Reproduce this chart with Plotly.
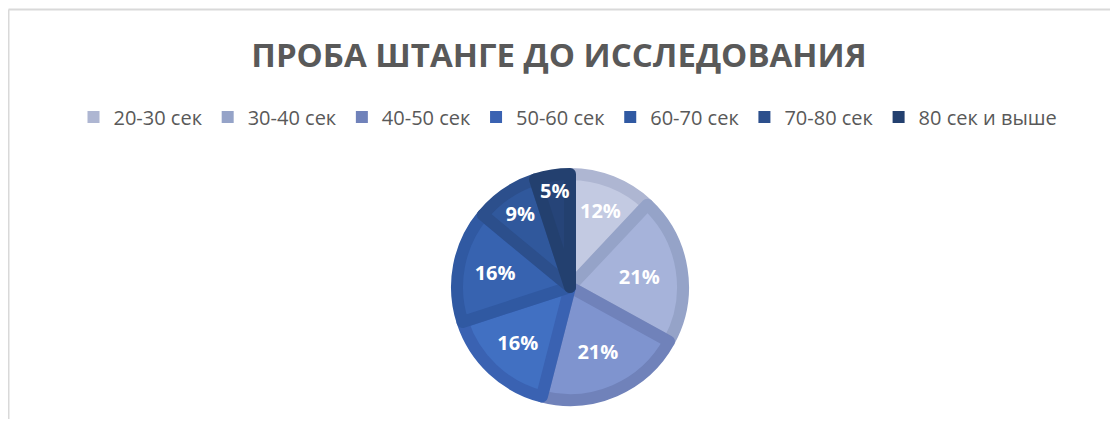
import plotly.graph_objects as go

categories = ["20-30 сек", "30-40 сек", "40-50 сек", "50-60 сек", "60-70 сек", "70-80 сек", "80 сек и выше"]
values = [12, 21, 21, 16, 16, 9, 5]
inner_colors = ["#c3cae2", "#a6b3da", "#7f94cf", "#4170c2", "#3763b0", "#30589c", "#264478"]
edge_colors = ["#aeb6d2", "#95a3c8", "#7082ba", "#3a62b2", "#3059a2", "#2c4f8c", "#23406f"]
title_text = "ПРОБА ШТАНГЕ ДО ИССЛЕДОВАНИЯ"

W, H = 1102, 411
L, R, T, B = 22, 0, 166, 19
PW, PH = W - L - R, H - T - B

fig = go.Figure()
# legend-only helper pie (solid swatches), drawn at a negligible size
fig.add_trace(go.Pie(
    labels=categories, values=values, sort=False, direction="clockwise",
    marker=dict(colors=edge_colors, line=dict(width=0)),
    textinfo="none", hoverinfo="skip", showlegend=True,
    domain=dict(x=[0.5, 0.5001], y=[0.5, 0.5001]),
))
fig.add_trace(go.Pie(
    labels=categories,
    values=values,
    sort=False,
    direction="clockwise",
    rotation=0,
    marker=dict(colors=inner_colors, line=dict(color=edge_colors, width=12)),
    textinfo="percent",
    texttemplate="%{percent:.0%}",
    textposition="inside",
    insidetextorientation="horizontal",
    textfont=dict(family="Open Sans", size=20, color="white", weight="bold"),
    showlegend=False,
))

fig.update_layout(
    width=W, height=H,
    paper_bgcolor="white",
    margin=dict(l=L, r=R, t=T, b=B),
    uniformtext=dict(minsize=20, mode="show"),
    title=dict(text="<b>" + title_text + "</b>", x=0.5, xanchor="center",
               y=1 - 47 / H, yanchor="middle", yref="container",
               font=dict(family="Open Sans", size=33, color="#595959")),
    legend=dict(orientation="h", x=(568 - 8) / W, xanchor="center", xref="container",
                y=1 - 109 / H, yanchor="middle", yref="container",
                font=dict(family="Open Sans", size=20, color="#595959"),
                itemwidth=30, traceorder="normal"),
    shapes=[
        dict(type="line", xref="paper", yref="paper",
             x0=(0.5 - L) / PW, x1=1.1, y0=1 + (T - 1.5) / PH, y1=1 + (T - 1.5) / PH,
             line=dict(color="#d9d9d9", width=2)),
        dict(type="line", xref="paper", yref="paper",
             x0=(0.5 - L) / PW, x1=(0.5 - L) / PW, y0=1 + (T - 1.5) / PH, y1=-0.3,
             line=dict(color="#d9d9d9", width=2)),
    ],
)

fig.write_html("out.html")
